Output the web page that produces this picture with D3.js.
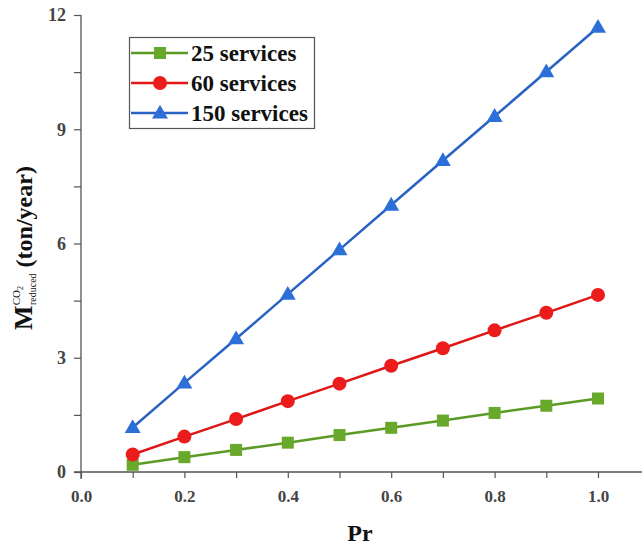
<!DOCTYPE html>
<html><head><meta charset="utf-8">
<script src="https://cdn.jsdelivr.net/npm/d3@7"></script>
<style>body{margin:0;background:#fff}svg{display:block}</style>
</head><body>
<svg id="c" width="642" height="549"></svg>
<script>
const pr = [0.1,0.2,0.3,0.4,0.5,0.6,0.7,0.8,0.9,1.0];
const s25 = [0.19,0.39,0.58,0.77,0.97,1.16,1.35,1.55,1.74,1.93];
const s60 = [0.46,0.93,1.39,1.86,2.32,2.79,3.25,3.72,4.18,4.65];
const s150 = [1.17,2.34,3.50,4.67,5.84,7.01,8.18,9.34,10.51,11.68];
const seriesNames = ["25 services","60 services","150 services"];
const xTicks = [0.0,0.2,0.4,0.6,0.8,1.0];
const yTicks = [0,3,6,9,12];

const svg = d3.select("#c");
const font = "'Liberation Serif','Times New Roman',serif";
const x = d3.scaleLinear().domain([0,1]).range([81,598]);
const y = d3.scaleLinear().domain([0,12]).range([472,15]);
const axisCol = "#555";

svg.append("line").attr("x1",74).attr("x2",642).attr("y1",y(0)).attr("y2",y(0)).attr("stroke",axisCol).attr("stroke-width",1.3);
svg.append("line").attr("x1",x(0)).attr("x2",x(0)).attr("y1",y(12)).attr("y2",479).attr("stroke",axisCol).attr("stroke-width",1.3);

const xa = svg.append("g").attr("transform",`translate(0,${y(0)})`)
  .call(d3.axisBottom(x).tickValues(d3.range(0,1.01,0.1)).tickSize(6).tickFormat(d=>{const r=Math.round(d*10);return r%2===0?d3.format(".1f")(d):"";}));
xa.select(".domain").remove();
xa.selectAll(".tick line").attr("stroke",axisCol).attr("stroke-width",1.2);
xa.selectAll("text").attr("font-family",font).attr("font-weight","bold").attr("font-size",17).attr("fill","#444").attr("y",30).attr("dy",0);

const ya = svg.append("g").attr("transform",`translate(${x(0)},0)`)
  .call(d3.axisLeft(y).tickValues(d3.range(0,12.01,1.5)).tickSize(7).tickFormat(d=>yTicks.includes(d)?d:""));
ya.select(".domain").remove();
ya.selectAll(".tick line").attr("stroke",axisCol).attr("stroke-width",1.2);
ya.selectAll("text").attr("font-family",font).attr("font-weight","bold").attr("font-size",18).attr("fill","#444").attr("x",-15);

const cols = ["#68a92c","#ec1c1c","#2d6fd8"];
const lineCols = ["#5a9a25","#e01515","#2a62c4"];
const data = [s25,s60,s150];
const line = d3.line().x((d,i)=>x(pr[i])).y(d=>y(d));
const tri = d3.symbol().type(d3.symbolTriangle).size(110);
function marker(g,k,cx,cy){
  if(k===0) g.append("rect").attr("x",cx-6).attr("y",cy-6).attr("width",12).attr("height",12).attr("fill",cols[0]);
  else if(k===1) g.append("circle").attr("cx",cx).attr("cy",cy).attr("r",7).attr("fill",cols[1]);
  else g.append("path").attr("d",tri()).attr("transform",`translate(${cx},${cy+1})`).attr("fill",cols[2]);
}
data.forEach((vals,k)=>{
  svg.append("path").attr("d",line(vals)).attr("fill","none").attr("stroke",lineCols[k]).attr("stroke-width",2.5);
  const g = svg.append("g");
  vals.forEach((v,i)=>marker(g,k,x(pr[i]),y(v)));
});

const lg = svg.append("g");
lg.append("rect").attr("x",129.5).attr("y",37.5).attr("width",185).attr("height",91).attr("fill","#fff").attr("stroke","#555").attr("stroke-width",1.2);
seriesNames.forEach((n,k)=>{
  const cy = 53 + k*30;
  lg.append("line").attr("x1",131).attr("x2",188).attr("y1",cy).attr("y2",cy).attr("stroke",lineCols[k]).attr("stroke-width",2.5);
  marker(lg,k,160,cy);
  lg.append("text").attr("x",191).attr("y",cy+8).text(n).attr("font-family",font).attr("font-weight","bold").attr("font-size",23).attr("fill","#111");
});

svg.append("text").attr("x",360).attr("y",541).attr("text-anchor","middle").text("Pr")
  .attr("font-family",font).attr("font-weight","bold").attr("font-size",24).attr("fill","#111");
const yl = svg.append("text").attr("transform","translate(32,248) rotate(-90)").attr("text-anchor","middle")
  .attr("font-family",font).attr("font-weight","bold").attr("fill","#111");
yl.append("tspan").text("M").attr("font-size",26);
yl.append("tspan").text("CO").attr("font-size",11).attr("dy",-12).attr("font-weight","normal");
yl.append("tspan").text("2").attr("font-size",8).attr("dy",3).attr("font-weight","normal");
yl.append("tspan").text("reduced").attr("font-size",10).attr("dx",-19).attr("dy",13).attr("font-weight","normal");
yl.append("tspan").text(" (ton/year)").attr("font-size",24).attr("dy",-4);
</script>
</body></html>
